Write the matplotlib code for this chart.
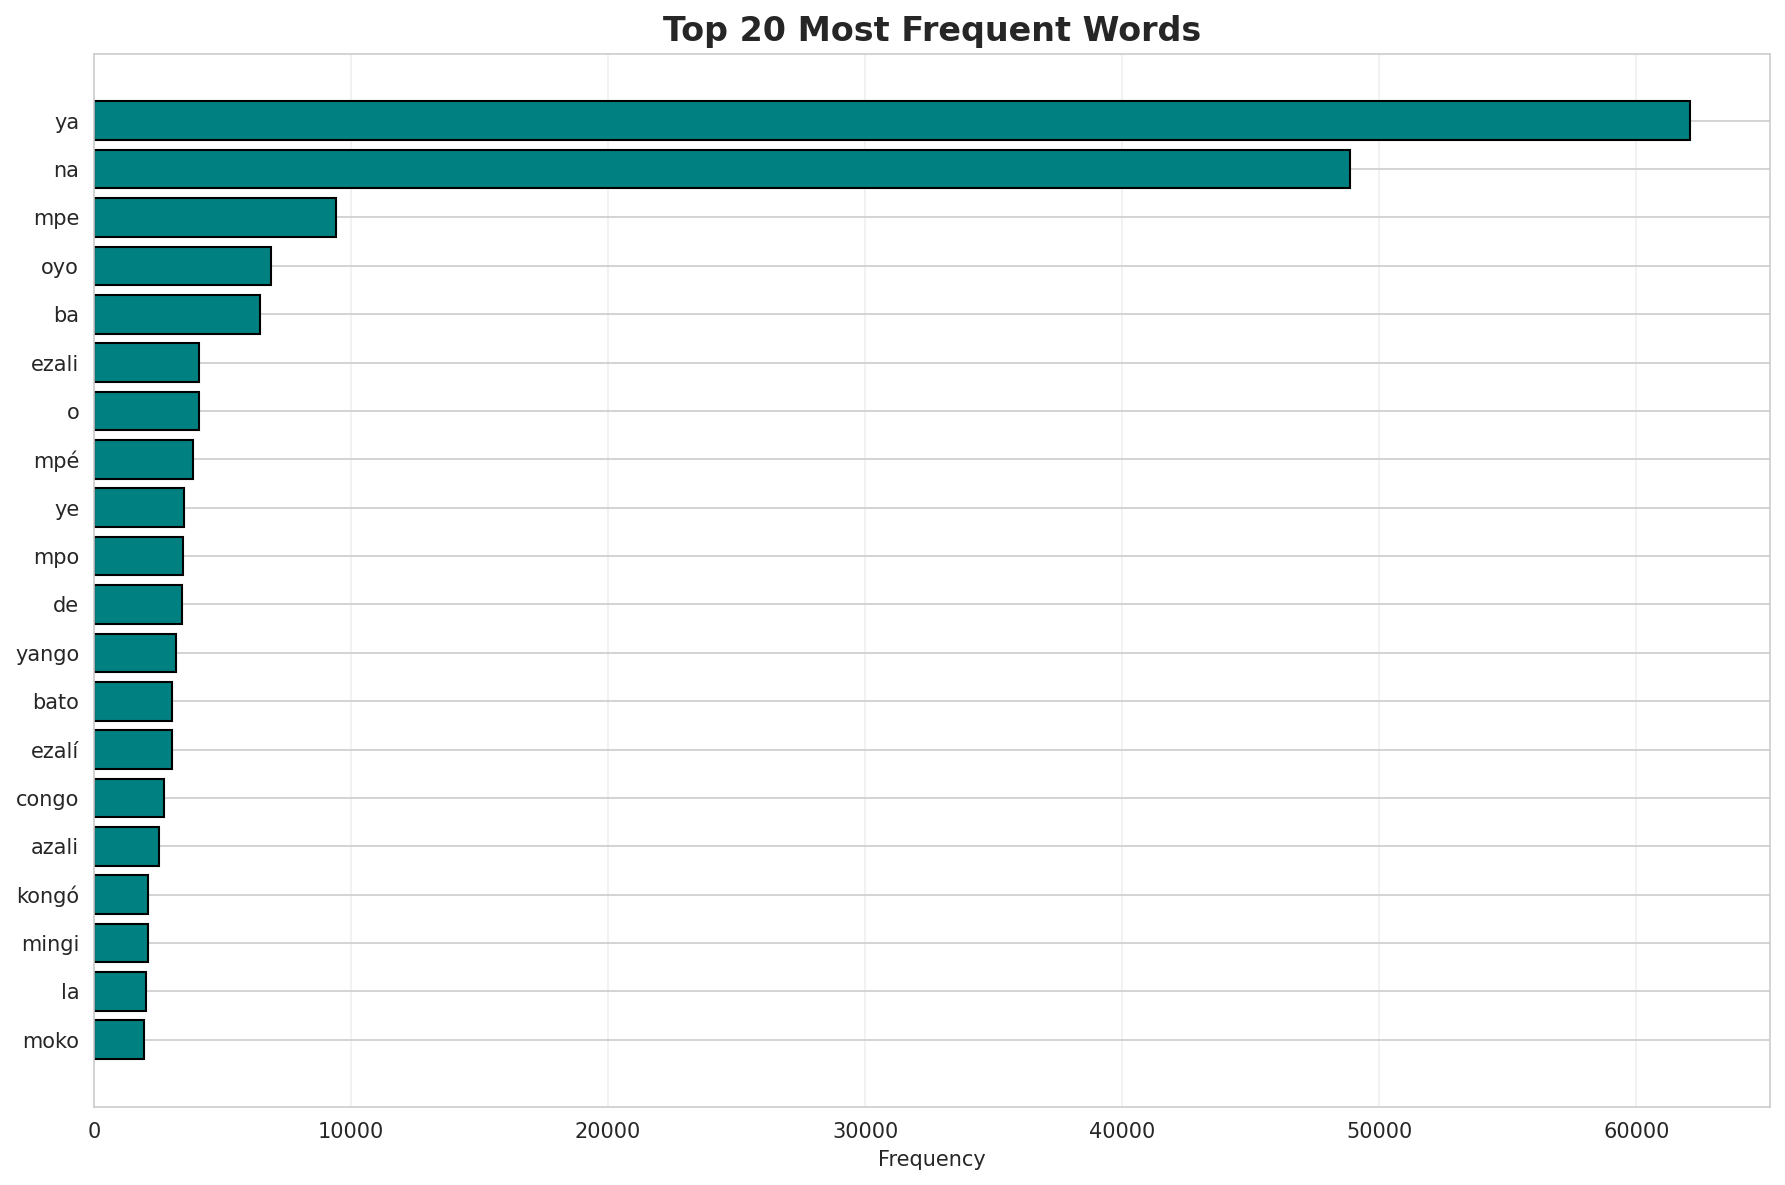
import matplotlib.pyplot as plt
import seaborn as sns

words = ["ya", "na", "mpe", "oyo", "ba", "ezali", "o", "mpé", "ye", "mpo",
         "de", "yango", "bato", "ezalí", "congo", "azali", "kongó", "mingi", "la", "moko"]
counts = [62100, 48850, 9410, 6905, 6460, 4080, 4075, 3855, 3500, 3468,
          3425, 3200, 3036, 3030, 2724, 2530, 2100, 2095, 2025, 1950]

sns.set_style("whitegrid")

fig, ax = plt.subplots(figsize=(12, 8), dpi=150)
ax.barh(words, counts, color="teal", edgecolor="black")
ax.invert_yaxis()
ax.set_xlabel("Frequency")
ax.set_title("Top 20 Most Frequent Words", fontsize=16, fontweight="bold")
ax.grid(axis="x", alpha=0.3)

plt.tight_layout()
plt.savefig("out.png", dpi=150, bbox_inches="tight")
